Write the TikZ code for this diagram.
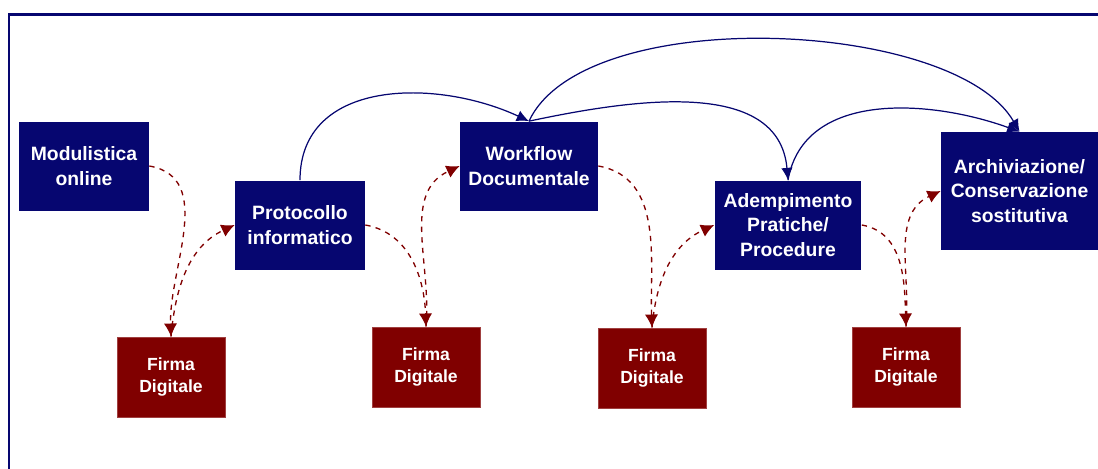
\documentclass[tikz,border=0pt]{standalone}
\usepackage{fontspec}
\setmainfont{Liberation Sans}
\usetikzlibrary{arrows.meta}
\definecolor{boxblue}{RGB}{6,6,112}
\definecolor{boxred}{RGB}{128,0,0}

\begin{document}
\begin{tikzpicture}[
        x=0.02cm, y=-0.02cm,
        process/.style={rectangle, fill=boxblue, text=white, inner sep=0pt, align=center,
            font=\bfseries\fontsize{11}{14}\selectfont, minimum height=1.78cm},
        signature/.style={rectangle, fill=boxred, draw=boxred!75!white, thin, text=white, inner sep=0pt,
            align=center, font=\bfseries\fontsize{10}{12.8}\selectfont, minimum width=2.16cm, minimum height=1.6cm},
        flow_edge/.style={boxblue, line width=0.7pt, -{Latex[length=7pt, width=6.5pt]}},
        sign_edge/.style={boxred, dashed, line width=0.75pt, -{Latex[length=7.5pt, width=7.5pt]}}
    ]
    \useasboundingbox (0,0) rectangle (1098,468);

    % Cornice esterna
    \draw[boxblue, line width=1.7pt] (9,470) -- (9,14.5) -- (1100,14.5);

    % Fasi del procedimento
    \node[process, minimum width=2.6cm] (modulistica) at (84, 166) {Modulistica\\online};
    \node[process, minimum width=2.6cm] (protocollo) at (300, 225) {Protocollo\\informatico};
    \node[process, minimum width=2.76cm] (workflow) at (529, 166) {Workflow\\Documentale};
    \node[process, minimum width=2.94cm] (adempimento) at (788, 225) {Adempimento\\Pratiche/\\Procedure};
    \node[process, minimum width=3.14cm, minimum height=2.36cm] (archiviazione) at (1019.5, 191) {Archiviazione/\\Conservazione\\sostitutiva};

    % Firme digitali
    \node[signature] (firma1) at (171, 377) {Firma\\Digitale};
    \node[signature] (firma2) at (426, 367) {Firma\\Digitale};
    \node[signature] (firma3) at (652, 368) {Firma\\Digitale};
    \node[signature] (firma4) at (906, 367) {Firma\\Digitale};

    % Passaggi attraverso la firma (tratteggiati)
    \draw[sign_edge] (modulistica.east) to[out=-10, in=92] (firma1.north);
    \draw[sign_edge] (firma1.north) to[out=85, in=205] (protocollo.west);
    \draw[sign_edge] (protocollo.east) to[out=-10, in=92] (firma2.north);
    \draw[sign_edge] (firma2.north) to[out=85, in=205] (workflow.west);
    \draw[sign_edge] (workflow.east) to[out=-10, in=92] (firma3.north);
    \draw[sign_edge] (firma3.north) to[out=85, in=205] (adempimento.west);
    \draw[sign_edge] (adempimento.east) to[out=-10, in=92] (firma4.north);
    \draw[sign_edge] (firma4.north) to[out=85, in=205] (archiviazione.west);

    % Flussi diretti tra le fasi
    \draw[flow_edge] (protocollo.north) to[out=90, in=155, looseness=1.1] (workflow.north);
    \draw[flow_edge] (workflow.north) to[out=65, in=120, looseness=0.68] (archiviazione.north);
    \draw[flow_edge] (workflow.north) to[out=12, in=95] (adempimento.north);
    \draw[flow_edge] (adempimento.north) to[out=80, in=160] (archiviazione.north);

    \end{tikzpicture}
\end{document}
